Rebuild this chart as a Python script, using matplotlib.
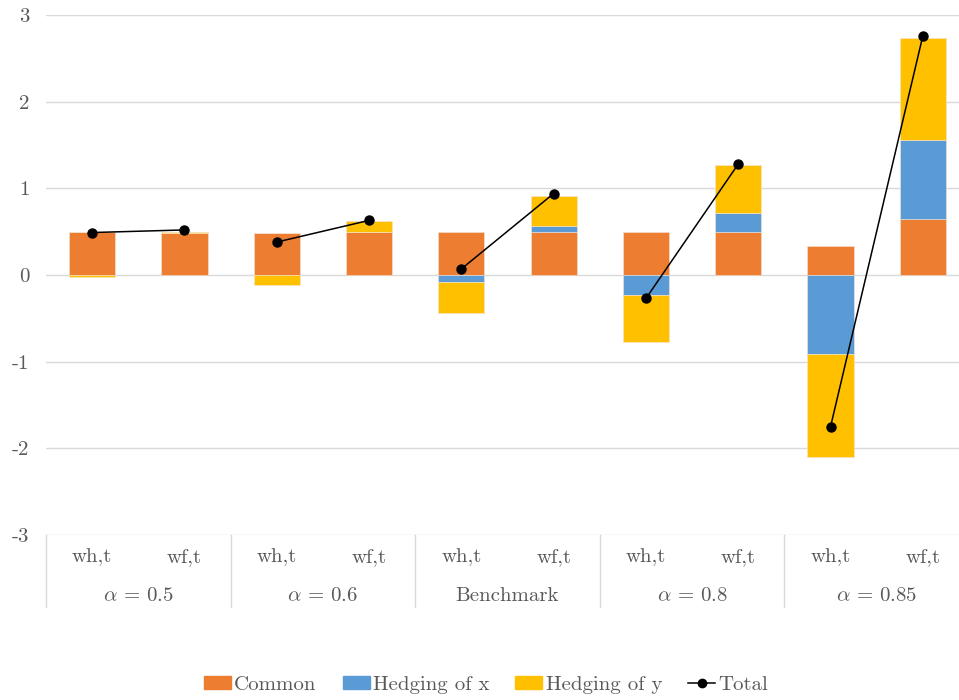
import numpy as np
import matplotlib
matplotlib.use("Agg")
import matplotlib.pyplot as plt
from matplotlib.patches import Patch
import matplotlib.lines as mlines

plt.rcParams['font.family'] = ['cmr10', 'DejaVu Serif']
plt.rcParams['mathtext.fontset'] = 'cm'
plt.rcParams['axes.unicode_minus'] = False

# data
sub_labels = ['wh,t', 'wf,t'] * 5
group_labels = [r'$\alpha$ = 0.5', r'$\alpha$ = 0.6', 'Benchmark',
                r'$\alpha$ = 0.8', r'$\alpha$ = 0.85']
common = [0.50, 0.48, 0.48, 0.50, 0.50, 0.50, 0.50, 0.50, 0.34, 0.65]
hedge_x = [0.00, 0.00, 0.00, 0.00, -0.08, 0.07, -0.23, 0.21, -0.91, 0.91]
hedge_y = [-0.02, 0.02, -0.11, 0.12, -0.36, 0.34, -0.54, 0.56, -1.19, 1.18]
total = [0.49, 0.52, 0.38, 0.63, 0.07, 0.94, -0.27, 1.28, -1.75, 2.76]

colors = ['#ED7D31', '#5B9BD5', '#FFC000']
names = ['Common', 'Hedging of x', 'Hedging of y']
txt_col = '#595959'
fs = 15

fig = plt.figure(figsize=(9.59, 7), dpi=100)
ax = fig.add_axes([46/959, 165/700, 913/959, 520/700])

x = np.arange(len(common))
pos_base = np.zeros(len(x))
neg_base = np.zeros(len(x))
for vals, c in zip([common, hedge_x, hedge_y], colors):
    v = np.array(vals)
    bottom = np.where(v >= 0, pos_base, neg_base)
    ax.bar(x, v, width=0.5, bottom=bottom, color=c, edgecolor='#f4e4d8',
           linewidth=0.4, zorder=2)
    pos_base = pos_base + np.where(v > 0, v, 0)
    neg_base = neg_base + np.where(v < 0, v, 0)

# total line, drawn pairwise inside each group
for g in range(5):
    i = 2 * g
    ax.plot(x[i:i+2], total[i:i+2], color='black', lw=1.1, marker='o',
            markersize=6.5, zorder=3)

ax.set_ylim(-3, 3)
ax.set_xlim(-0.5, -0.5 + 913/92.3)
ax.set_yticks(range(-3, 4))
ax.set_yticklabels([str(v) for v in range(-3, 4)])
ax.tick_params(axis='y', length=0, pad=12, labelsize=fs, labelcolor=txt_col)
ax.set_xticks([])
ax.grid(axis='y', color='#d9d9d9', lw=1, zorder=0)
ax.set_axisbelow(True)
for s in ax.spines.values():
    s.set_visible(False)

# two-level category axis
trans = ax.get_xaxis_transform()
for i, lab in enumerate(sub_labels):
    ax.text(x[i], -0.043, lab, transform=trans, ha='center', va='center',
            fontsize=fs, color=txt_col)
for g, lab in enumerate(group_labels):
    ax.text(2 * g + 0.5, -0.117, lab, transform=trans, ha='center',
            va='center', fontsize=fs, color=txt_col)
for b in np.arange(-0.5, 10, 2):
    ax.plot([b, b], [0, -0.1385], transform=trans, color='#d9d9d9', lw=1,
            clip_on=False)

handles = [Patch(color=c, label=n) for c, n in zip(colors, names)]
handles.append(mlines.Line2D([], [], color='black', marker='o', lw=1.1,
                             markersize=6, label='Total'))
fig.legend(handles=handles, loc='center', bbox_to_anchor=(486/959, 1 - 685/700),
           ncol=4, frameon=False, fontsize=fs, handlelength=1.3,
           handleheight=0.6, handletextpad=0.15, columnspacing=1.25,
           labelcolor=txt_col)

fig.savefig('out.png', dpi=100)
